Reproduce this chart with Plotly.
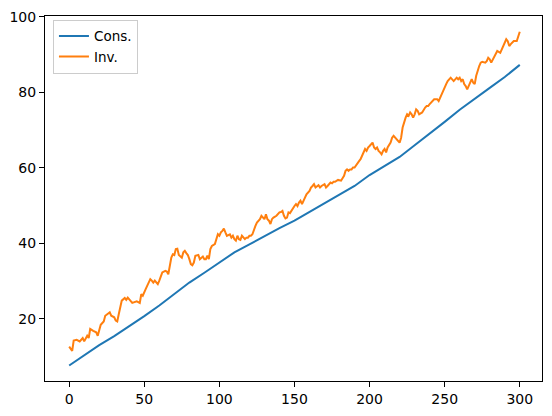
import plotly.graph_objects as go

cons_x = [0, 10, 20, 30, 40, 50, 60, 70, 80, 90, 100, 110, 120, 130, 140, 150,
          160, 170, 180, 190, 200, 210, 220, 230, 240, 250, 260, 270, 280, 290, 300]
cons_y = [7.6, 10.4, 13.0, 15.4, 18.0, 20.7, 23.5, 26.6, 29.6, 32.2, 35.0, 37.6,
          39.7, 41.9, 44.0, 46.0, 48.3, 50.6, 52.8, 55.2, 58.1, 60.5, 62.9, 66.0,
          69.0, 72.2, 75.4, 78.2, 81.2, 84.1, 87.3]

inv_x = [0, 2, 3, 5, 7, 9, 10, 12, 13, 14, 16, 18, 19, 21, 23, 24, 26, 27, 28, 30,
         31, 32, 33, 34, 35, 37, 38, 39, 41, 42, 45, 47, 48, 49, 51, 54, 55, 56, 57, 58,
         59, 60, 61, 62, 64, 65, 66, 67, 68, 69, 70, 71, 72, 73, 75, 76, 77, 78, 79, 80,
         81, 82, 83, 84, 86, 87, 88, 89, 90, 91, 92, 93, 94, 95, 97, 98, 99, 100, 101, 102,
         103, 104, 105, 107, 108, 109, 110, 111, 112, 113, 114, 115, 117, 118, 119, 120, 121, 122, 123, 124,
         125, 127, 128, 129, 130, 131, 132, 133, 134, 135, 136, 138, 139, 140, 141, 142, 143, 144, 145, 146,
         147, 149, 150, 151, 152, 153, 154, 155, 156, 157, 158, 160, 161, 162, 163, 164, 165, 166, 167, 168,
         170, 171, 172, 173, 174, 175, 176, 177, 178, 179, 181, 182, 183, 184, 185, 186, 187, 188, 189, 190,
         192, 193, 194, 195, 196, 197, 198, 199, 200, 202, 203, 204, 205, 206, 207, 208, 209, 210, 211, 212,
         214, 215, 216, 217, 218, 219, 220, 221, 222, 224, 225, 226, 227, 228, 229, 230, 231, 232, 233, 235,
         236, 237, 238, 239, 240, 241, 242, 243, 244, 245, 246, 247, 248, 249, 250, 251, 252, 253, 254, 256,
         257, 258, 259, 260, 261, 262, 263, 264, 265, 267, 268, 269, 270, 271, 272, 273, 274, 275, 277, 278,
         279, 280, 281, 282, 283, 284, 285, 287, 288, 289, 290, 291, 292, 293, 294, 295, 296, 298, 299, 300]
inv_y = [12.6, 11.5, 14.2, 14.4, 14.0, 14.9, 14.0, 15.5, 14.9, 17.3, 16.8, 16.4, 15.5, 18.4, 19.3, 20.8, 21.4, 21.7, 20.8, 20.4,
         19.5, 19.3, 21.2, 22.8, 24.8, 25.5, 25.0, 25.6, 24.8, 24.2, 24.6, 24.2, 26.5, 26.1, 27.9, 30.5, 30.1, 29.6, 30.1, 29.6,
         29.2, 30.1, 31.4, 32.3, 32.7, 32.5, 31.8, 34.0, 36.2, 37.1, 36.9, 38.5, 38.6, 36.9, 36.2, 37.6, 38.0, 37.4, 36.9, 35.8,
         34.5, 34.2, 34.9, 36.7, 36.9, 35.8, 36.2, 36.5, 35.8, 35.8, 36.7, 35.8, 38.5, 39.3, 39.8, 41.5, 42.4, 42.0, 42.9, 43.3,
         43.9, 42.9, 42.0, 42.4, 41.5, 42.0, 41.1, 40.7, 42.0, 41.1, 40.9, 42.0, 41.1, 41.5, 41.5, 42.0, 42.0, 42.4, 43.8, 44.6,
         45.5, 46.4, 47.3, 46.8, 46.4, 47.7, 46.4, 46.0, 45.1, 46.4, 46.8, 47.3, 47.7, 48.2, 48.3, 48.6, 47.3, 46.6, 46.8, 48.2,
         48.0, 49.5, 49.9, 50.4, 49.9, 50.8, 51.3, 50.4, 51.3, 52.1, 53.0, 53.9, 54.8, 55.2, 55.7, 54.8, 55.2, 55.4, 54.8, 55.2,
         55.7, 54.8, 55.2, 55.7, 56.1, 55.9, 56.3, 56.3, 56.6, 56.8, 56.6, 57.4, 57.9, 59.2, 59.6, 59.2, 59.6, 59.6, 60.1, 60.1,
         61.4, 61.8, 62.3, 63.2, 64.5, 65.0, 64.5, 65.4, 65.8, 66.7, 65.4, 65.0, 65.4, 64.5, 64.1, 63.6, 64.5, 65.0, 64.1, 65.4,
         66.7, 68.0, 68.5, 68.0, 67.6, 67.2, 66.7, 68.0, 70.7, 73.3, 74.2, 73.8, 74.7, 74.2, 73.3, 74.2, 75.5, 75.1, 74.2, 74.7,
         75.5, 76.0, 76.4, 76.4, 76.9, 77.3, 77.7, 78.2, 78.2, 78.2, 77.7, 78.6, 79.5, 80.4, 81.7, 82.2, 83.0, 83.5, 83.9, 83.0,
         83.5, 83.9, 83.5, 83.9, 83.0, 83.5, 82.2, 81.7, 80.8, 82.6, 83.5, 82.6, 82.2, 84.4, 86.1, 87.0, 87.9, 88.1, 87.9, 88.3,
         89.2, 88.8, 87.9, 88.8, 89.7, 90.5, 91.0, 90.5, 91.4, 91.9, 92.8, 94.1, 93.6, 92.3, 92.8, 93.2, 93.6, 93.6, 95.0, 96.1]

x_ticks = [0, 50, 100, 150, 200, 250, 300]
y_ticks = [20, 40, 60, 80, 100]

fig = go.Figure()
fig.add_trace(go.Scatter(x=cons_x, y=cons_y, mode="lines", name="Cons.",
                         line=dict(color="#1f77b4", width=2)))
fig.add_trace(go.Scatter(x=inv_x, y=inv_y, mode="lines", name="Inv.",
                         line=dict(color="#ff7f0e", width=2)))

axis_style = dict(
    showgrid=False,
    zeroline=False,
    showline=True,
    mirror=True,
    linecolor="black",
    linewidth=1,
    ticks="outside",
    ticklen=5,
    tickwidth=1,
    tickcolor="black",
    tickfont=dict(family="DejaVu Sans", size=14, color="black"),
)

fig.update_layout(
    width=552,
    height=416,
    margin=dict(l=45, r=9, t=14, b=34),
    paper_bgcolor="white",
    plot_bgcolor="white",
    font=dict(family="DejaVu Sans", size=14, color="black"),
    showlegend=True,
    legend=dict(
        x=0.016, y=0.99, xanchor="left", yanchor="top",
        bgcolor="rgba(255,255,255,0.8)",
        bordercolor="#cccccc",
        borderwidth=1,
        itemwidth=30,
        tracegroupgap=0,
        font=dict(family="DejaVu Sans", size=13.5, color="black"),
    ),
)
fig.update_xaxes(range=[-16.1, 314.8], tickvals=x_ticks, **axis_style)
fig.update_yaxes(range=[3.5, 100.26], tickvals=y_ticks, **axis_style)

# drop the default 8px body margin so the figure sits at the window corner
fig.write_html("out.html", config={"displayModeBar": False},
               post_script="document.body.style.margin = '0px';")
